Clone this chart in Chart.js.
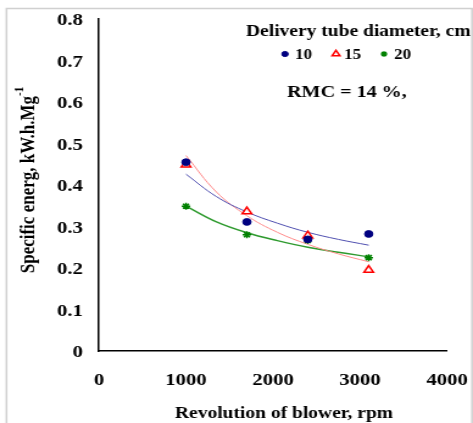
<!DOCTYPE html>
<html>
<head>
<meta charset="utf-8">
<script src="https://cdn.jsdelivr.net/npm/chart.js@4"></script>
<style>
  body { margin: 0; background: #fff; }
  canvas { display: block; }
</style>
</head>
<body>
<canvas id="graphique" width="388" height="423" style="width:473px;height:423px"></canvas>
<script>
const rpm = [1000, 1700, 2400, 3100];
const tube10 = [0.455, 0.311, 0.269, 0.282];
const tube15 = [0.449, 0.336, 0.278, 0.195];
const tube20 = [0.349, 0.280, 0.266, 0.225];

// trend lines
const trendRpm = [1000, 1350, 1700, 2050, 2400, 2750, 3100];
const trend10 = [0.426, 0.372, 0.335, 0.308, 0.286, 0.269, 0.255];
const trend15 = [0.471, 0.383, 0.326, 0.286, 0.257, 0.234, 0.215];
const trend20 = [0.349, 0.311, 0.285, 0.266, 0.250, 0.238, 0.227];

const xTicks = [0, 1000, 2000, 3000, 4000];
const yTicks = [0, 0.1, 0.2, 0.3, 0.4, 0.5, 0.6, 0.7, 0.8];

const legendTitle = "Delivery tube diameter, cm";
const legendLabels = ["10", "15", "20"];
const note = "RMC = 14 %,";
const xTitle = "Revolution of blower, rpm";
const yTitle = "Specific energ, kW.h.Mg";

const serif = "'Liberation Serif', 'Times New Roman', serif";

// the original picture is stretched sideways, the canvas is stretched the same way by css
const S = 473 / 388;
const X = (px) => px / S;

function points(xs, ys) {
  return xs.map((x, i) => ({ x: x, y: ys[i] }));
}

function noPadding(scale) {
  scale.paddingTop = 0;
  scale.paddingBottom = 0;
  scale.paddingLeft = 0;
  scale.paddingRight = 0;
}

const markers = [
  { label: legendLabels[0], data: points(rpm, tube10), pointStyle: "circle", pointRadius: 3.4,
    backgroundColor: "#000080", borderColor: "#000080", pointBorderWidth: 1 },
  { label: legendLabels[1], data: points(rpm, tube15), pointStyle: "triangle", pointRadius: 4.5,
    backgroundColor: "#ffffff", borderColor: "#ff0000", pointBorderWidth: 1.5 },
  { label: legendLabels[2], data: points(rpm, tube20), pointStyle: "star", pointRadius: 3.5,
    backgroundColor: "#008000", borderColor: "#008000", pointBorderWidth: 1.5 },
];

const trends = [
  { data: points(trendRpm, trend10), borderColor: "#5050b0" },
  { data: points(trendRpm, trend15), borderColor: "#ff8c8c" },
  { data: points(trendRpm, trend20), borderColor: "#2e9a2e", borderWidth: 1.5 },
].map((t) => ({
  label: "",
  data: t.data,
  showLine: true,
  pointRadius: 0,
  tension: 0.4,
  borderWidth: t.borderWidth || 1,
  borderColor: t.borderColor,
}));

const decor = {
  id: "decor",
  beforeDraw(chart) {
    const ctx = chart.ctx;
    ctx.save();
    ctx.strokeStyle = "#d0d0d0";
    ctx.lineWidth = 1.5;
    ctx.strokeRect(X(6.5), 8.5, X(465.5), 440);
    ctx.restore();
  },
  afterDraw(chart) {
    const ctx = chart.ctx;
    ctx.save();
    ctx.fillStyle = "#000";
    ctx.textBaseline = "alphabetic";

    // legend
    ctx.font = "bold 16px " + serif;
    ctx.textAlign = "left";
    ctx.fillText(legendTitle, X(246), 36);
    ctx.font = "bold 14px " + serif;
    const items = [
      { mx: 285, tx: 295 },
      { mx: 336, tx: 344 },
      { mx: 384, tx: 394 },
    ];
    items.forEach((it, i) => {
      const ds = markers[i];
      ctx.save();
      ctx.fillStyle = ds.backgroundColor;
      ctx.strokeStyle = ds.borderColor;
      ctx.lineWidth = ds.pointBorderWidth;
      Chart.helpers.drawPoint(ctx, {
        pointStyle: ds.pointStyle,
        radius: ds.pointRadius - 0.8,
        borderWidth: ds.pointBorderWidth,
        rotation: 0,
      }, X(it.mx), 54);
      ctx.restore();
      ctx.fillText(legendLabels[i], X(it.tx), 59);
    });

    ctx.font = "bold 16.5px " + serif;
    ctx.fillText(note, X(287), 97);

    // x title
    ctx.textAlign = "center";
    ctx.font = "bold 16px " + serif;
    ctx.fillText(xTitle, X(284), 418);

    // y title with superscript
    ctx.translate(X(34), 180);
    ctx.rotate(-Math.PI / 2);
    ctx.font = "bold 17px " + serif;
    const w = ctx.measureText(yTitle).width;
    ctx.font = "bold 11px " + serif;
    const sw = ctx.measureText("-1").width;
    ctx.textAlign = "left";
    ctx.font = "bold 17px " + serif;
    const start = -(w + sw) / 2;
    ctx.fillText(yTitle, start, 0);
    ctx.font = "bold 11px " + serif;
    ctx.fillText("-1", start + w, -9);
    ctx.restore();
  },
};

new Chart(document.querySelector("#graphique"), {
  type: "scatter",
  data: { datasets: markers.concat(trends) },
  options: {
    responsive: false,
    animation: false,
    layout: { autoPadding: false, padding: { top: 19, right: X(26), bottom: 0, left: 0 } },
    plugins: {
      legend: { display: false },
      tooltip: { enabled: false },
    },
    scales: {
      x: {
        type: "linear",
        min: 0,
        max: 4000,
        afterBuildTicks: (scale) => { scale.ticks = xTicks.map((v) => ({ value: v })); },
        afterFit: (scale) => { scale.height = 72; noPadding(scale); },
        grid: { display: false, drawTicks: false },
        border: { display: true, color: "#000", width: 1.5 },
        ticks: { color: "#000", padding: 19, maxRotation: 0, font: { family: serif, size: 17, weight: "bold" },
          callback: (v) => String(v) },
      },
      y: {
        type: "linear",
        min: 0,
        max: 0.8,
        afterBuildTicks: (scale) => { scale.ticks = yTicks.map((v) => ({ value: v })); },
        afterFit: (scale) => { scale.width = X(99); noPadding(scale); },
        grid: { display: false, drawTicks: false },
        border: { display: true, color: "#000", width: 1.5 },
        ticks: { color: "#000", padding: X(16), labelOffset: 2, font: { family: serif, size: 17, weight: "bold" },
          callback: (v) => (v === 0 ? "0" : v.toFixed(1)) },
      },
    },
  },
  plugins: [decor],
});
</script>
</body>
</html>
